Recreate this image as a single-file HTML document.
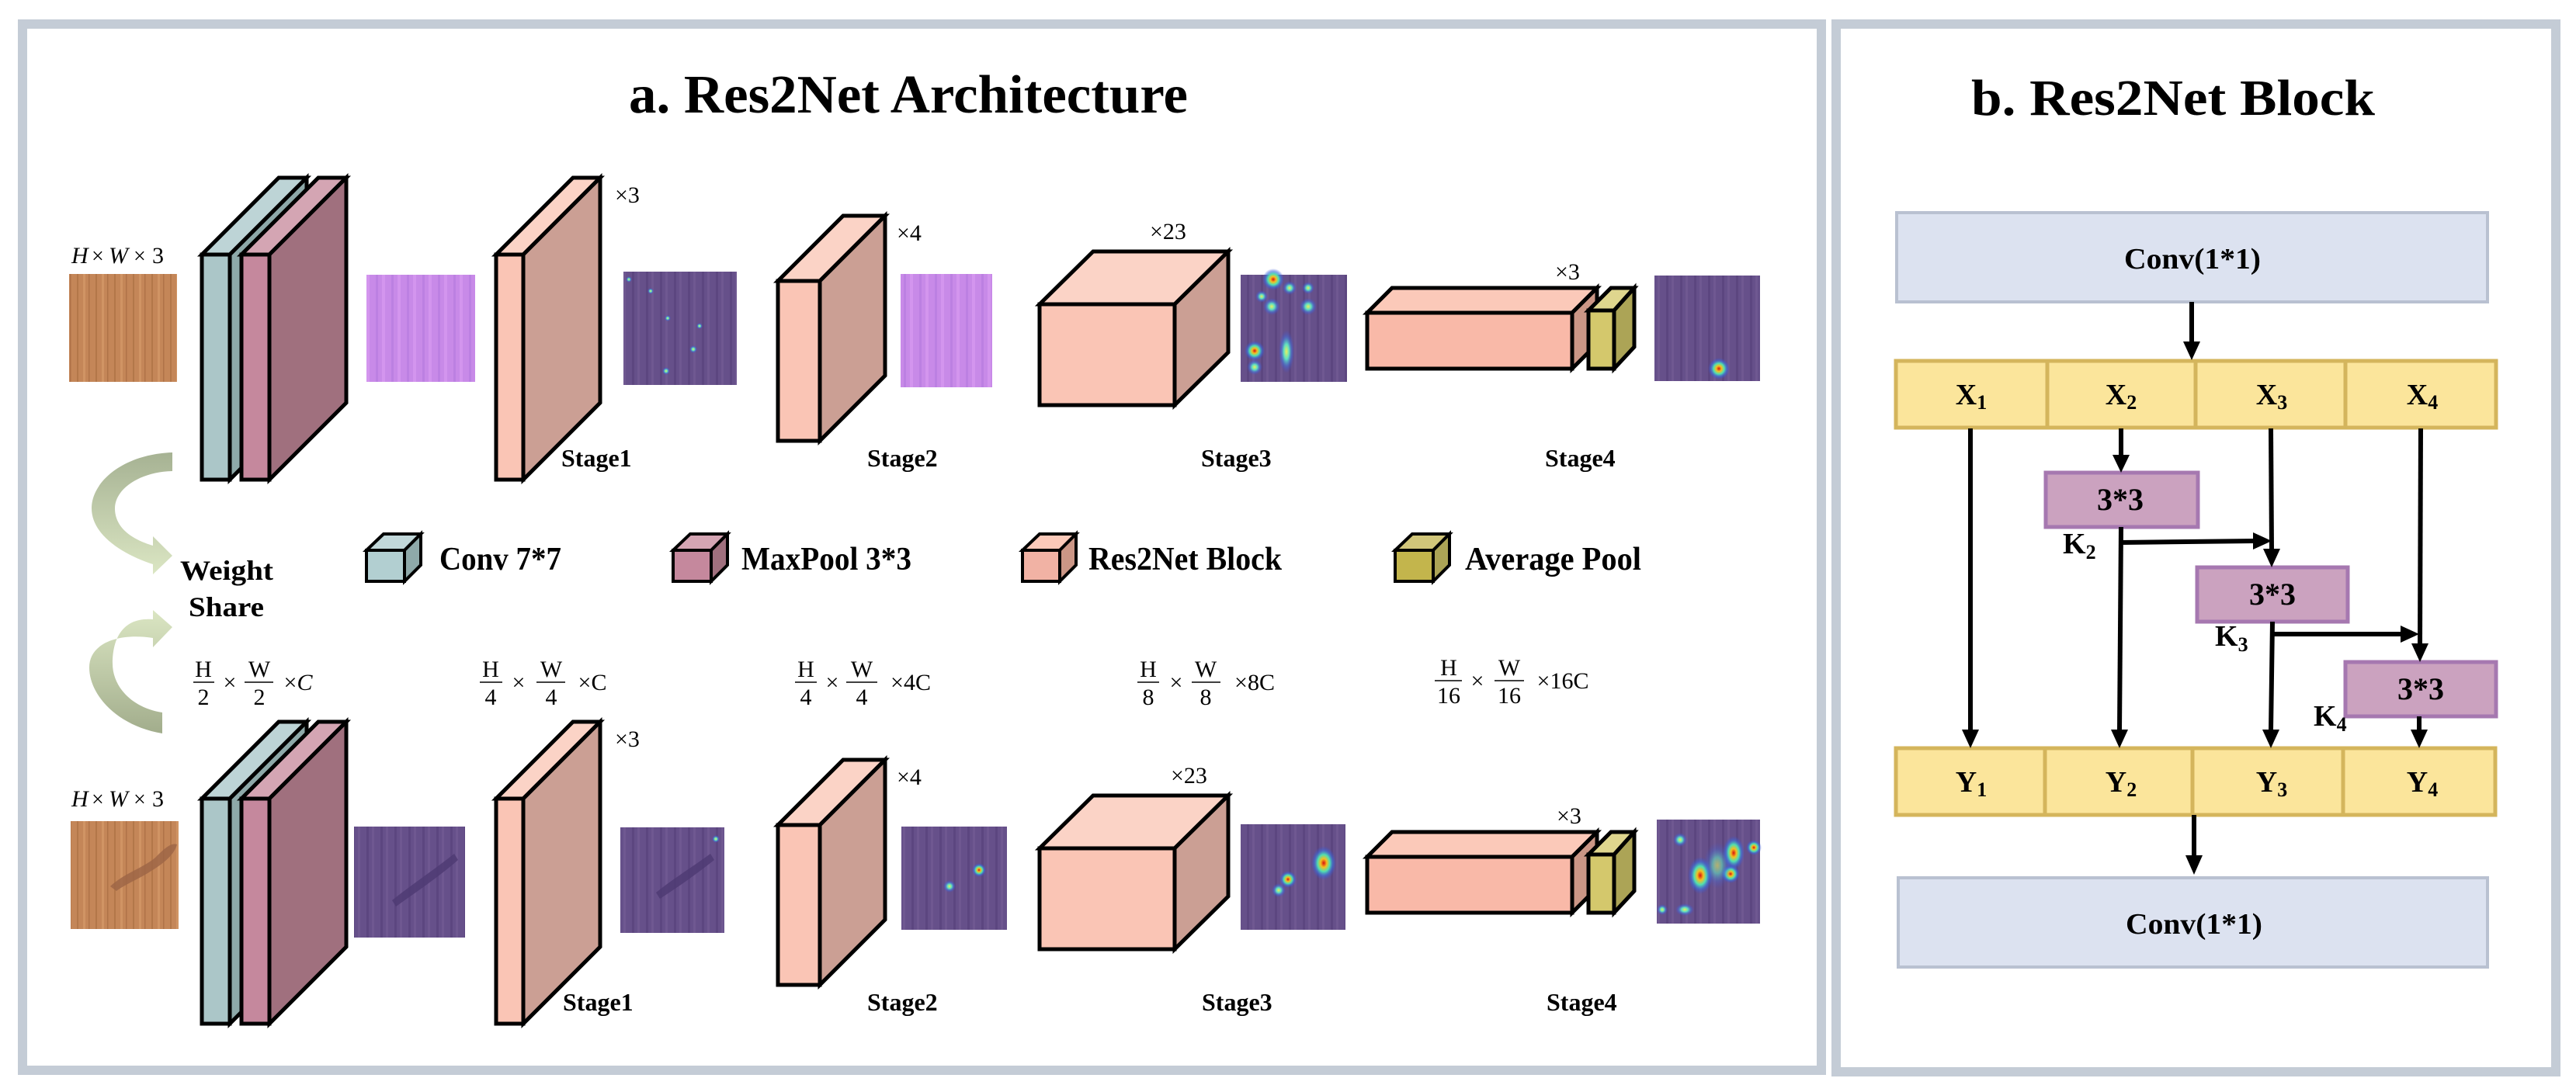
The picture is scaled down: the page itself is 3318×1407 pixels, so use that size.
<!DOCTYPE html>
<html><head><meta charset="utf-8"><style>
html,body{margin:0;padding:0;background:#fff;}
svg{display:block;}
text{font-family:"Liberation Serif",serif;}
</style></head><body>
<svg width="3318" height="1407" viewBox="0 0 3318 1407" xmlns="http://www.w3.org/2000/svg">
<defs>
<radialGradient id="hot">
<stop offset="0" stop-color="#d81010"/>
<stop offset="0.25" stop-color="#f5c020"/>
<stop offset="0.5" stop-color="#50e0b0"/>
<stop offset="0.75" stop-color="#3a6ee0" stop-opacity="0.6"/>
<stop offset="1" stop-color="#3a50d0" stop-opacity="0"/>
</radialGradient>
<radialGradient id="cy">
<stop offset="0" stop-color="#e8f060"/>
<stop offset="0.35" stop-color="#60e0c0"/>
<stop offset="0.7" stop-color="#4070e0" stop-opacity="0.5"/>
<stop offset="1" stop-color="#4050d0" stop-opacity="0"/>
</radialGradient>
<pattern id="wood" width="24" height="140" patternUnits="userSpaceOnUse">
<rect width="24" height="140" fill="#c48658"/>
<rect x="3" width="2" height="140" fill="#a86c40" opacity="0.6"/>
<rect x="11" width="3" height="140" fill="#d69a6a" opacity="0.7"/>
<rect x="18" width="1.5" height="140" fill="#9a6038" opacity="0.5"/>
</pattern>
<pattern id="lav" width="20" height="140" patternUnits="userSpaceOnUse">
<rect width="20" height="140" fill="#c88ae8"/>
<rect x="4" width="3" height="140" fill="#b479de" opacity="0.6"/>
<rect x="12" width="4" height="140" fill="#d89af2" opacity="0.7"/>
</pattern>
<pattern id="dp" width="18" height="140" patternUnits="userSpaceOnUse">
<rect width="18" height="140" fill="#66508a"/>
<rect x="4" width="3" height="140" fill="#58427c" opacity="0.7"/>
<rect x="11" width="3" height="140" fill="#735c95" opacity="0.7"/>
</pattern>
<linearGradient id="g1" x1="0" y1="0" x2="0" y2="1">
<stop offset="0" stop-color="#a6b293"/><stop offset="1" stop-color="#dbe6c3"/>
</linearGradient>
<linearGradient id="g2" x1="0" y1="0" x2="0" y2="1">
<stop offset="0" stop-color="#dbe6c3"/><stop offset="1" stop-color="#a2ad8c"/>
</linearGradient>
</defs>

<!-- panels -->
<rect x="29" y="31" width="2317" height="1348" fill="#fff" stroke="#c4ccd6" stroke-width="12"/>
<rect x="2365" y="31" width="927" height="1350" fill="#fff" stroke="#c4ccd6" stroke-width="12"/>

<text x="1170" y="145" font-size="70" font-weight="bold" text-anchor="middle" textLength="720" lengthAdjust="spacingAndGlyphs">a. Res2Net Architecture</text>
<text x="2799" y="148" font-size="66" font-weight="bold" text-anchor="middle" textLength="520" lengthAdjust="spacingAndGlyphs">b. Res2Net Block</text>

<!-- ROW 1 -->
<text x="92" y="339" font-size="30" font-style="italic">H</text><text x="118" y="339" font-size="28">×</text><text x="140" y="339" font-size="30" font-style="italic">W</text><text x="172" y="339" font-size="28">×</text><text x="196" y="339" font-size="30">3</text>
<rect x="89" y="353" width="139" height="139" fill="url(#wood)"/>

<g stroke="#000" stroke-width="5" stroke-linejoin="miter">
<!-- conv -->
<polygon points="260,328 359,229 395,229 296,328" fill="#bdd4d6"/>
<polygon points="296,328 395,229 395,519 296,618" fill="#8ea9a9"/>
<rect x="260" y="328" width="36" height="290" fill="#abc6c8"/>
<!-- maxpool -->
<polygon points="311,328 410,229 446,229 347,328" fill="#d4a5b3"/>
<polygon points="347,328 446,229 446,519 347,618" fill="#a0707e"/>
<rect x="311" y="328" width="36" height="290" fill="#c5889d"/>
<!-- stage1 -->
<polygon points="639,328 738,229 773,229 674,328" fill="#fbd3c6"/>
<polygon points="674,328 773,229 773,519 674,618" fill="#cb9f94"/>
<rect x="639" y="328" width="35" height="290" fill="#fac5b5"/>
<!-- stage2 -->
<polygon points="1002,362 1086,278 1140,278 1056,362" fill="#fbd3c6"/>
<polygon points="1056,362 1140,278 1140,484 1056,568" fill="#cb9f94"/>
<rect x="1002" y="362" width="54" height="206" fill="#fac5b5"/>
<!-- stage3 -->
<polygon points="1339,392 1408,324 1582,324 1513,392" fill="#fbd3c6"/>
<polygon points="1513,392 1582,324 1582,454 1513,522" fill="#cb9f94"/>
<rect x="1339" y="392" width="174" height="130" fill="#fac5b5"/>
<!-- stage4 -->
<polygon points="1761,403 1793,371 2057,371 2025,403" fill="#fbc9b9"/>
<polygon points="2025,403 2057,371 2057,443 2025,475" fill="#cb9686"/>
<rect x="1761" y="403" width="264" height="72" fill="#f9b9a8"/>
<polygon points="2046,400 2075,371 2105,371 2079,400" fill="#dfd68e"/>
<polygon points="2079,400 2105,371 2105,447 2079,475" fill="#aca456"/>
<rect x="2046" y="400" width="33" height="75" fill="#d4c86c"/>
</g>

<rect x="472" y="354" width="140" height="138" fill="url(#lav)"/>
<rect x="803" y="350" width="146" height="146" fill="url(#dp)"/>
<g fill="url(#cy)"><circle cx="860" cy="410" r="4"/><circle cx="893" cy="450" r="5"/><circle cx="858" cy="478" r="5"/><circle cx="838" cy="375" r="4"/><circle cx="901" cy="420" r="4"/><circle cx="810" cy="360" r="4"/></g>
<rect x="1160" y="353" width="118" height="146" fill="url(#lav)"/>
<rect x="1598" y="354" width="137" height="138" fill="url(#dp)"/>
<g><ellipse cx="1640" cy="360" rx="14" ry="14" fill="url(#hot)"/><circle cx="1638" cy="395" r="11" fill="url(#cy)"/><circle cx="1685" cy="395" r="11" fill="url(#cy)"/><circle cx="1616" cy="452" r="13" fill="url(#hot)"/><circle cx="1616" cy="473" r="10" fill="url(#cy)"/><ellipse cx="1657" cy="453" rx="10" ry="28" fill="url(#cy)"/><circle cx="1661" cy="371" r="9" fill="url(#cy)"/><circle cx="1625" cy="382" r="8" fill="url(#cy)"/><circle cx="1685" cy="371" r="8" fill="url(#cy)"/></g>
<rect x="2131" y="355" width="136" height="136" fill="url(#dp)"/>
<circle cx="2214" cy="475" r="14" fill="url(#hot)"/>

<g font-size="30"><text x="792" y="261">×3</text><text x="1155" y="310">×4</text><text x="1481" y="308">×23</text><text x="2003" y="360">×3</text></g>
<g font-size="32" font-weight="bold"><text x="723" y="601">Stage1</text><text x="1117" y="601">Stage2</text><text x="1547" y="601">Stage3</text><text x="1990" y="601">Stage4</text></g>

<!-- arrows green -->
<path d="M222,583 C160,585 118,620 118,655 C118,690 160,715 197,727 L197,740 L222,716 L197,691 L197,703 C170,695 148,680 148,655 C148,630 180,608 222,607 Z" fill="url(#g1)"/>
<path d="M209,945 C150,935 115,895 115,860 C115,830 150,815 197,822 L197,834 L222,808 L197,786 L197,798 C160,795 145,820 145,855 C145,885 170,912 209,918 Z" fill="url(#g2)"/>
<g font-size="36" font-weight="bold"><text x="232" y="747" textLength="120" lengthAdjust="spacingAndGlyphs">Weight</text><text x="243" y="794" textLength="97" lengthAdjust="spacingAndGlyphs">Share</text></g>

<!-- legend -->
<g stroke="#000" stroke-width="4">
<polygon points="472,709 494,688 542,688 521,709" fill="#c2d8da"/><polygon points="521,709 542,688 542,728 521,749" fill="#8ea9a9"/><rect x="472" y="709" width="49" height="40" fill="#b2cfd1"/>
<polygon points="867,709 889,688 937,688 916,709" fill="#d4a5b3"/><polygon points="916,709 937,688 937,728 916,749" fill="#a0707e"/><rect x="867" y="709" width="49" height="40" fill="#c5889d"/>
<polygon points="1317,709 1339,688 1386,688 1365,709" fill="#fbc9b9"/><polygon points="1365,709 1386,688 1386,728 1365,749" fill="#cb9686"/><rect x="1317" y="709" width="48" height="40" fill="#f1b2a4"/>
<polygon points="1797,709 1819,688 1867,688 1846,709" fill="#d1c67a"/><polygon points="1846,709 1867,688 1867,728 1846,749" fill="#aca456"/><rect x="1797" y="709" width="49" height="40" fill="#c3b54c"/>
</g>
<g font-size="42" font-weight="bold">
<text x="566" y="734" textLength="157" lengthAdjust="spacingAndGlyphs">Conv 7*7</text>
<text x="955" y="734" textLength="219" lengthAdjust="spacingAndGlyphs">MaxPool 3*3</text>
<text x="1402" y="734" textLength="249" lengthAdjust="spacingAndGlyphs">Res2Net Block</text>
<text x="1887" y="734" textLength="227" lengthAdjust="spacingAndGlyphs">Average Pool</text>
</g>

<!-- fractions -->
<g font-size="30" text-anchor="middle">
<text x="262" y="872">H</text><text x="262" y="908">2</text><text x="296" y="889">×</text><text x="334" y="872">W</text><text x="334" y="908">2</text><text x="384" y="889">×<tspan font-style="italic">C</tspan></text>
<text x="632" y="872">H</text><text x="632" y="908">4</text><text x="668" y="889">×</text><text x="710" y="872">W</text><text x="710" y="908">4</text><text x="763" y="889">×C</text>
<text x="1038" y="872">H</text><text x="1038" y="908">4</text><text x="1072" y="889">×</text><text x="1110" y="872">W</text><text x="1110" y="908">4</text><text x="1173" y="889">×4C</text>
<text x="1479" y="872">H</text><text x="1479" y="908">8</text><text x="1515" y="889">×</text><text x="1553" y="872">W</text><text x="1553" y="908">8</text><text x="1616" y="889">×8C</text>
<text x="1866" y="870">H</text><text x="1866" y="906">16</text><text x="1903" y="887">×</text><text x="1944" y="870">W</text><text x="1944" y="906">16</text><text x="2013" y="887">×16C</text>
</g>
<g stroke="#000" stroke-width="1.5">
<line x1="249" y1="879" x2="276" y2="879"/><line x1="315" y1="879" x2="352" y2="879"/>
<line x1="618" y1="879" x2="647" y2="879"/><line x1="691" y1="879" x2="728" y2="879"/>
<line x1="1024" y1="879" x2="1052" y2="879"/><line x1="1090" y1="879" x2="1130" y2="879"/>
<line x1="1465" y1="879" x2="1493" y2="879"/><line x1="1535" y1="879" x2="1572" y2="879"/>
<line x1="1848" y1="877" x2="1883" y2="877"/><line x1="1925" y1="877" x2="1963" y2="877"/>
</g>

<!-- ROW 2 -->
<text x="92" y="1039" font-size="30" font-style="italic">H</text><text x="118" y="1039" font-size="28">×</text><text x="140" y="1039" font-size="30" font-style="italic">W</text><text x="172" y="1039" font-size="28">×</text><text x="196" y="1039" font-size="30">3</text>
<rect x="91" y="1058" width="139" height="139" fill="url(#wood)"/>
<path d="M142,1142 C160,1125 185,1118 200,1105 C210,1095 220,1085 228,1088 C225,1100 212,1112 195,1122 C180,1132 160,1140 150,1148 Z" fill="#9c6446" opacity="0.8"/>

<g transform="translate(0,701)" stroke="#000" stroke-width="5">
<polygon points="260,328 359,229 395,229 296,328" fill="#bdd4d6"/>
<polygon points="296,328 395,229 395,519 296,618" fill="#8ea9a9"/>
<rect x="260" y="328" width="36" height="290" fill="#abc6c8"/>
<polygon points="311,328 410,229 446,229 347,328" fill="#d4a5b3"/>
<polygon points="347,328 446,229 446,519 347,618" fill="#a0707e"/>
<rect x="311" y="328" width="36" height="290" fill="#c5889d"/>
<polygon points="639,328 738,229 773,229 674,328" fill="#fbd3c6"/>
<polygon points="674,328 773,229 773,519 674,618" fill="#cb9f94"/>
<rect x="639" y="328" width="35" height="290" fill="#fac5b5"/>
<polygon points="1002,362 1086,278 1140,278 1056,362" fill="#fbd3c6"/>
<polygon points="1056,362 1140,278 1140,484 1056,568" fill="#cb9f94"/>
<rect x="1002" y="362" width="54" height="206" fill="#fac5b5"/>
<polygon points="1339,392 1408,324 1582,324 1513,392" fill="#fbd3c6"/>
<polygon points="1513,392 1582,324 1582,454 1513,522" fill="#cb9f94"/>
<rect x="1339" y="392" width="174" height="130" fill="#fac5b5"/>
<polygon points="1761,403 1793,371 2057,371 2025,403" fill="#fbc9b9"/>
<polygon points="2025,403 2057,371 2057,443 2025,475" fill="#cb9686"/>
<rect x="1761" y="403" width="264" height="72" fill="#f9b9a8"/>
<polygon points="2046,400 2075,371 2105,371 2079,400" fill="#dfd68e"/>
<polygon points="2079,400 2105,371 2105,447 2079,475" fill="#aca456"/>
<rect x="2046" y="400" width="33" height="75" fill="#d4c86c"/>
</g>

<rect x="456" y="1065" width="143" height="143" fill="url(#dp)"/>
<path d="M505,1160 C530,1140 560,1120 585,1100 L590,1108 C565,1130 535,1150 510,1168 Z" fill="#4e3a72" opacity="0.8"/>
<rect x="799" y="1066" width="134" height="136" fill="url(#dp)"/>
<path d="M845,1150 C870,1130 895,1115 915,1100 L920,1108 C895,1128 870,1145 850,1158 Z" fill="#4e3a72" opacity="0.8"/>
<circle cx="922" cy="1081" r="5" fill="url(#cy)"/>
<rect x="1161" y="1065" width="136" height="133" fill="url(#dp)"/>
<circle cx="1261" cy="1121" r="9" fill="url(#hot)"/><circle cx="1223" cy="1142" r="8" fill="url(#cy)"/>
<rect x="1598" y="1062" width="135" height="136" fill="url(#dp)"/>
<ellipse cx="1705" cy="1112" rx="16" ry="22" fill="url(#hot)"/><circle cx="1659" cy="1133" r="11" fill="url(#hot)"/><circle cx="1647" cy="1147" r="9" fill="url(#cy)"/>
<rect x="2134" y="1056" width="133" height="134" fill="url(#dp)"/>
<ellipse cx="2190" cy="1128" rx="16" ry="24" fill="url(#hot)"/><ellipse cx="2233" cy="1099" rx="14" ry="22" fill="url(#hot)"/><circle cx="2229" cy="1126" r="12" fill="url(#hot)"/><circle cx="2259" cy="1092" r="10" fill="url(#hot)"/><circle cx="2164" cy="1082" r="9" fill="url(#cy)"/><ellipse cx="2170" cy="1172" rx="12" ry="8" fill="url(#cy)"/><circle cx="2141" cy="1172" r="7" fill="url(#cy)"/><ellipse cx="2212" cy="1115" rx="18" ry="30" fill="url(#cy)" opacity="0.6"/>

<g font-size="30"><text x="792" y="962">×3</text><text x="1155" y="1011">×4</text><text x="1508" y="1009">×23</text><text x="2005" y="1061">×3</text></g>
<g font-size="32" font-weight="bold"><text x="725" y="1302">Stage1</text><text x="1117" y="1302">Stage2</text><text x="1548" y="1302">Stage3</text><text x="1992" y="1302">Stage4</text></g>

<!-- RIGHT PANEL -->
<rect x="2443" y="274" width="761" height="115" fill="#dce2f0" stroke="#b9c1d1" stroke-width="4"/>
<rect x="2445" y="1131" width="759" height="115" fill="#dce2f0" stroke="#b9c1d1" stroke-width="4"/>
<g font-size="38" font-weight="bold" text-anchor="middle">
<text x="2824" y="346" textLength="176" lengthAdjust="spacingAndGlyphs">Conv(1*1)</text>
<text x="2826" y="1203" textLength="176" lengthAdjust="spacingAndGlyphs">Conv(1*1)</text>
</g>

<g fill="#fbe59b" stroke="#d4b55c" stroke-width="5">
<rect x="2442" y="465" width="195" height="86"/><rect x="2637" y="465" width="191" height="86"/><rect x="2828" y="465" width="193" height="86"/><rect x="3021" y="465" width="194" height="86"/>
<rect x="2442" y="964" width="192" height="86"/><rect x="2634" y="964" width="190" height="86"/><rect x="2824" y="964" width="194" height="86"/><rect x="3018" y="964" width="196" height="86"/>
</g>
<g font-size="38" font-weight="bold" text-anchor="middle">
<text x="2539" y="521">X<tspan font-size="26" dy="6">1</tspan></text>
<text x="2732" y="521">X<tspan font-size="26" dy="6">2</tspan></text>
<text x="2926" y="521">X<tspan font-size="26" dy="6">3</tspan></text>
<text x="3120" y="521">X<tspan font-size="26" dy="6">4</tspan></text>
<text x="2539" y="1020">Y<tspan font-size="26" dy="6">1</tspan></text>
<text x="2732" y="1020">Y<tspan font-size="26" dy="6">2</tspan></text>
<text x="2926" y="1020">Y<tspan font-size="26" dy="6">3</tspan></text>
<text x="3120" y="1020">Y<tspan font-size="26" dy="6">4</tspan></text>
</g>

<g fill="#cba2bf" stroke="#a678b0" stroke-width="5">
<rect x="2635" y="609" width="196" height="70"/>
<rect x="2830" y="731" width="194" height="70"/>
<rect x="3021" y="853" width="194" height="70"/>
</g>
<g font-size="40" font-weight="bold" text-anchor="middle">
<text x="2731" y="657">3*3</text><text x="2927" y="779">3*3</text><text x="3118" y="901">3*3</text>
</g>
<g font-size="38" font-weight="bold">
<text x="2657" y="713">K<tspan font-size="26" dy="7">2</tspan></text>
<text x="2853" y="832">K<tspan font-size="26" dy="7">3</tspan></text>
<text x="2980" y="935">K<tspan font-size="26" dy="7">4</tspan></text>
</g>

<g stroke="#000" stroke-width="6" fill="none">
<line x1="2823" y1="389" x2="2823" y2="442"/>
<line x1="2538" y1="552" x2="2538" y2="942"/>
<line x1="2732" y1="552" x2="2732" y2="588"/>
<line x1="2732" y1="679" x2="2730" y2="942"/>
<line x1="2732" y1="699" x2="2904" y2="697"/>
<line x1="2925" y1="552" x2="2926" y2="709"/>
<line x1="2927" y1="801" x2="2925" y2="942"/>
<line x1="2927" y1="817" x2="3094" y2="817"/>
<line x1="3118" y1="552" x2="3117" y2="831"/>
<line x1="3116" y1="923" x2="3116" y2="942"/>
<line x1="2826" y1="1050" x2="2826" y2="1104"/>
</g>
<g fill="#000">
<polygon points="2812,440 2834,440 2823,464"/>
<polygon points="2527,940 2549,940 2538,964"/>
<polygon points="2721,586 2743,586 2732,609"/>
<polygon points="2719,940 2741,940 2730,964"/>
<polygon points="2902,686 2902,708 2926,697"/>
<polygon points="2915,707 2937,707 2926,731"/>
<polygon points="2914,940 2936,940 2925,964"/>
<polygon points="3092,806 3092,828 3116,817"/>
<polygon points="3106,829 3128,829 3117,853"/>
<polygon points="3105,940 3127,940 3116,964"/>
<polygon points="2815,1102 2837,1102 2826,1127"/>
</g>
</svg>
</body></html>
